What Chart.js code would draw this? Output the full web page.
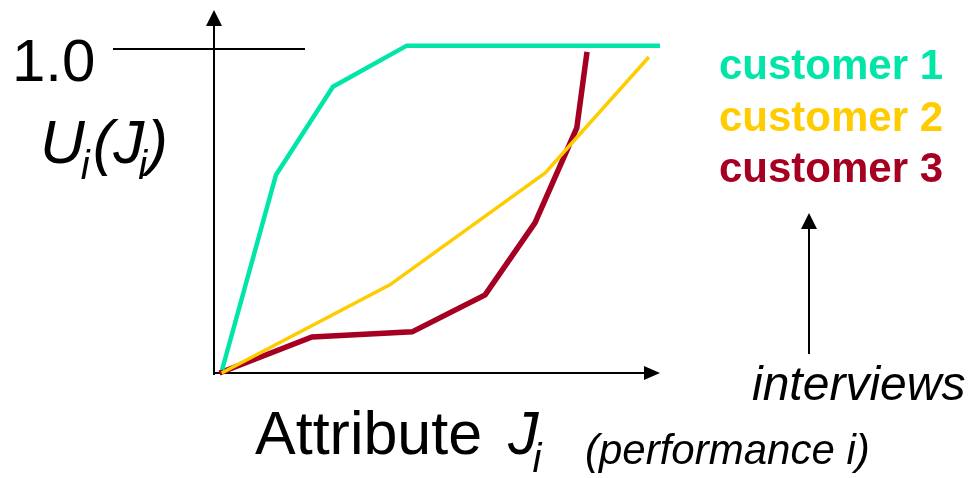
<!DOCTYPE html>
<html>
<head>
<meta charset="utf-8">
<script src="https://cdn.jsdelivr.net/npm/chart.js@4"></script>
<style>
  html, body { margin: 0; padding: 0; background: #fff; }
  #wrap { width: 969px; height: 478px; }
</style>
</head>
<body>
<div id="wrap"><canvas id="myChart" width="969" height="478"></canvas></div>
<script>
// attribute level (0..100) and utility (0..1)
let customer1X = [1.6, 13.7, 26.5, 43.1, 100];
let customer1Y = [0.01, 0.611, 0.883, 1.01, 1.01];

let customer2X = [1.5, 39.3, 74.2, 97.5];
let customer2Y = [0.0, 0.272, 0.617, 0.975];

let customer3X = [1.0, 21.8, 44.3, 60.7, 71.9, 81.3, 83.6];
let customer3Y = [0.0, 0.111, 0.127, 0.241, 0.463, 0.756, 0.991];

let legendLabels = ["customer 1", "customer 2", "customer 3"];
let farben = ["#00E6A8", "#FFCC00", "#A50021"];
let yTickLabel = "1.0";

function punkte(xs, ys)
{
    let liste = [];
    for(let i = 0; i < xs.length; i++)
    {
        liste.push({ x: xs[i], y: ys[i] });
    }
    return liste;
}

function pfeil(ctx, x, y, richtung)
{
    ctx.beginPath();
    if(richtung == "up")
    {
        ctx.moveTo(x, y);
        ctx.lineTo(x - 8, y + 16);
        ctx.lineTo(x + 8, y + 16);
    }
    else
    {
        ctx.moveTo(x, y);
        ctx.lineTo(x - 16, y - 7);
        ctx.lineTo(x - 16, y + 7);
    }
    ctx.closePath();
    ctx.fill();
}

const FONT = "'Liberation Sans', Arial, sans-serif";

const achsen =
{
    id: "achsen",
    beforeDatasetsDraw(chart)
    {
        const ctx = chart.ctx;
        const x0 = chart.scales.x.getPixelForValue(0);
        const y0 = chart.scales.y.getPixelForValue(0);
        const y1 = chart.scales.y.getPixelForValue(1.0);
        const xEnd = chart.scales.x.getPixelForValue(100);
        const yTop = chart.scales.y.getPixelForValue(chart.scales.y.max);

        ctx.save();
        ctx.strokeStyle = "#000";
        ctx.fillStyle = "#000";
        ctx.lineWidth = 2;

        ctx.beginPath();
        ctx.moveTo(x0 - 1, y0 + 2);
        ctx.lineTo(x0 - 1, yTop + 12);
        ctx.moveTo(x0 - 2, y0);
        ctx.lineTo(xEnd - 12, y0);
        ctx.moveTo(x0 - 102, y1);
        ctx.lineTo(x0 + 90, y1);
        ctx.stroke();

        pfeil(ctx, x0 - 1, yTop, "up");
        pfeil(ctx, xEnd, y0, "right");
        ctx.restore();
    },
    afterDraw(chart)
    {
        const ctx = chart.ctx;
        const y1 = chart.scales.y.getPixelForValue(1.0);
        ctx.save();
        ctx.fillStyle = "#000";
        ctx.textBaseline = "alphabetic";

        // 1.0 label
        ctx.font = "60px " + FONT;
        ctx.fillText(yTickLabel, 12, y1 + 32);

        // U_i(J_i)
        let x = 40;
        ctx.font = "italic 62px " + FONT;
        ctx.fillText("U", x, 163); x += ctx.measureText("U").width - 4;
        ctx.font = "italic 40px " + FONT;
        ctx.fillText("i", x, 179); x += ctx.measureText("i").width + 3;
        ctx.font = "italic 62px " + FONT;
        ctx.fillText("(", x, 163); x += ctx.measureText("(").width;
        ctx.fillText("J", x, 163); x += ctx.measureText("J").width - 6;
        ctx.font = "italic 40px " + FONT;
        ctx.fillText("i", x, 179); x += ctx.measureText("i").width;
        ctx.font = "italic 62px " + FONT;
        ctx.fillText(")", x, 163);

        // x axis title
        ctx.font = "61px " + FONT;
        ctx.fillText("Attribute", 255, 454);
        ctx.font = "italic 61px " + FONT;
        ctx.fillText("J", 508, 454);
        x = 508 + ctx.measureText("J").width - 6;
        ctx.font = "italic 40px " + FONT;
        ctx.fillText("i", x, 472);
        ctx.font = "italic 42px " + FONT;
        ctx.fillText("(performance i)", 585, 464);

        // legend
        ctx.font = "bold 42px " + FONT;
        for(let i = 0; i < legendLabels.length; i++)
        {
            ctx.fillStyle = farben[i];
            ctx.fillText(legendLabels[i], 719, 79 + i * 51.5);
        }

        // interviews arrow
        ctx.fillStyle = "#000";
        ctx.strokeStyle = "#000";
        ctx.lineWidth = 2;
        ctx.beginPath();
        ctx.moveTo(809, 354);
        ctx.lineTo(809, 226);
        ctx.stroke();
        pfeil(ctx, 809, 213, "up");

        ctx.font = "italic 48px " + FONT;
        ctx.fillText("interviews", 752, 400);
        ctx.restore();
    }
};

const config =
{
    type: "line",
    data:
    {
        datasets:
        [
            { label: legendLabels[0], data: punkte(customer1X, customer1Y), borderColor: farben[0], borderWidth: 4.5 },
            { label: legendLabels[1], data: punkte(customer2X, customer2Y), borderColor: farben[1], borderWidth: 3.5 },
            { label: legendLabels[2], data: punkte(customer3X, customer3Y), borderColor: farben[2], borderWidth: 5.5 }
        ]
    },
    options:
    {
        responsive: false,
        animation: false,
        layout: { padding: { left: 215, right: 309, top: 10, bottom: 105 } },
        elements:
        {
            point: { radius: 0 },
            line: { tension: 0, borderJoinStyle: "miter", borderCapStyle: "butt", fill: false }
        },
        datasets: { line: { clip: false } },
        plugins: { legend: { display: false }, tooltip: { enabled: false } },
        scales:
        {
            x: { type: "linear", min: 0, max: 100, display: false },
            y: { type: "linear", min: 0, max: 1.12, display: false }
        }
    },
    plugins: [achsen]
};

new Chart(document.getElementById("myChart"), config);
</script>
</body>
</html>
